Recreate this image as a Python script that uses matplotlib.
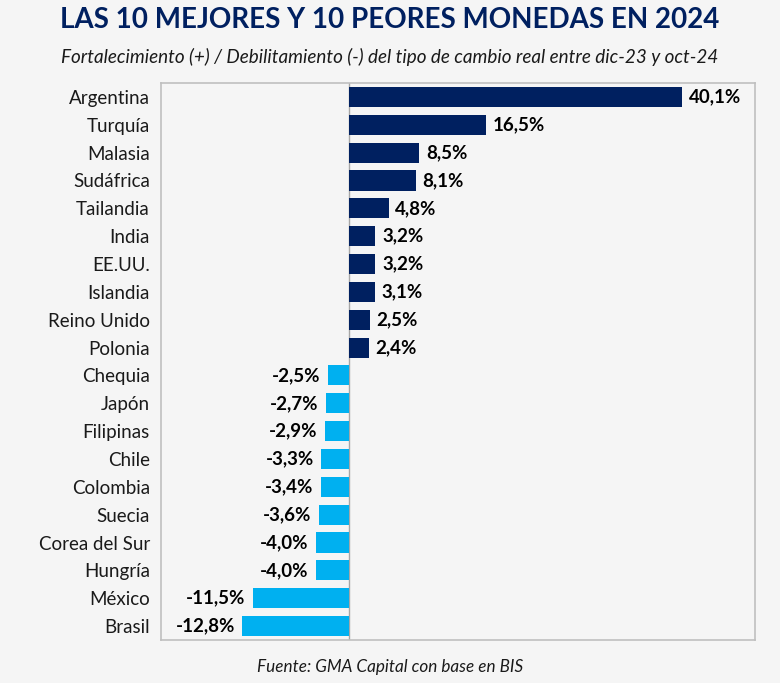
import matplotlib.pyplot as plt

paises = ["Argentina", "Turquía", "Malasia", "Sudáfrica", "Tailandia", "India",
          "EE.UU.", "Islandia", "Reino Unido", "Polonia", "Chequia", "Japón",
          "Filipinas", "Chile", "Colombia", "Suecia", "Corea del Sur", "Hungría",
          "México", "Brasil"]
valores = [40.1, 16.5, 8.5, 8.1, 4.8, 3.2, 3.2, 3.1, 2.5, 2.4,
           -2.5, -2.7, -2.9, -3.3, -3.4, -3.6, -4.0, -4.0, -11.5, -12.8]

navy = "#002060"
celeste = "#00b0f0"
fondo = "#f5f5f5"

plt.rcParams["font.family"] = ["Lato", "DejaVu Sans"]

fig = plt.figure(figsize=(7.8, 6.83), dpi=100, facecolor=fondo)
ax = fig.add_axes([161 / 780, 1 - 640 / 683, (755 - 161) / 780, (640 - 83) / 683])
ax.set_facecolor(fondo)

pos = list(range(len(paises)))
colores = [navy if v > 0 else celeste for v in valores]
ax.barh(pos, valores, height=0.72, color=colores, zorder=2)
ax.axvline(0, color="#a6a6a6", lw=1, zorder=1)

for y, v in zip(pos, valores):
    txt = f"{v:.1f}%".replace(".", ",")
    if v > 0:
        ax.text(v + 0.8, y, txt, va="center", ha="left", fontsize=13.5,
                fontweight="bold", color="black")
    else:
        ax.text(v - 0.9, y, txt, va="center", ha="right", fontsize=13.5,
                fontweight="bold", color="black")

ax.set_xlim(-22.6, 48.9)
ax.set_ylim(len(paises) - 0.5, -0.5)
ax.set_xticks([])
ax.set_yticks(pos)
ax.set_yticklabels(paises, fontsize=13.5, color="#1a1a1a")
ax.tick_params(axis="y", length=0, pad=8)
for s in ax.spines.values():
    s.set_color("#bfbfbf")
    s.set_linewidth(1.2)

fig.text(0.5, 1 - 20 / 683, "LAS 10 MEJORES Y 10 PEORES MONEDAS EN 2024",
         ha="center", va="center", fontsize=20, fontweight="bold", color=navy)
fig.text(0.5, 1 - 57 / 683,
         "Fortalecimiento (+) / Debilitamiento (-) del tipo de cambio real entre dic-23 y oct-24",
         ha="center", va="center", fontsize=13.6, style="italic", color="#1a1a1a")
fig.text(0.5, 1 - 667 / 683, "Fuente: GMA Capital con base en BIS",
         ha="center", va="center", fontsize=12.3, style="italic", color="#1a1a1a")

fig.savefig("out.png", dpi=100, facecolor=fondo)
